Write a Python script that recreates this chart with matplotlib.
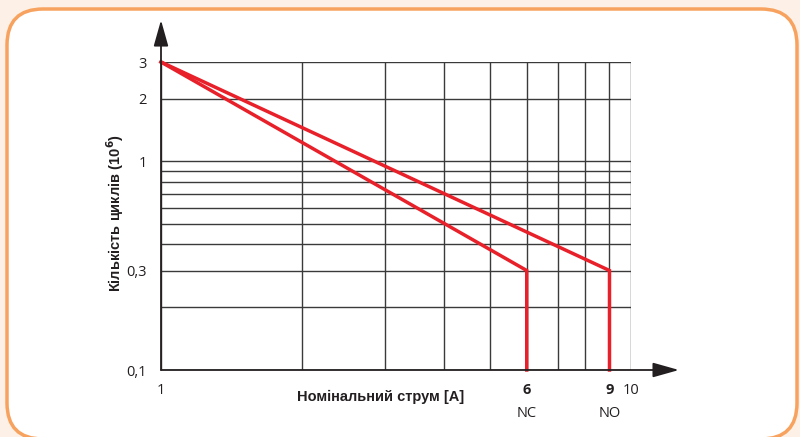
import matplotlib.pyplot as plt
from matplotlib.patches import FancyBboxPatch

# data
nc_current = [1, 6, 6]
nc_cycles = [3, 0.3, 0.1]
no_current = [1, 9, 9]
no_cycles = [3, 0.3, 0.1]

x_grid = [1, 2, 3, 4, 5, 6, 7, 8, 9, 10]
y_grid = [0.1, 0.2, 0.3, 0.4, 0.5, 0.6, 0.7, 0.8, 0.9, 1, 2, 3]
x_ticks = [1, 6, 9, 10]
x_ticklabels = ['1', '6', '9', '10']
y_ticks = [0.1, 0.3, 1, 2, 3]
y_ticklabels = ['0,1', '0,3', '1', '2', '3']

fig = plt.figure(figsize=(8, 4.37), dpi=100, facecolor='#fdf1e7')

# rounded frame
frame = FancyBboxPatch((7 / 800, -2 / 437), 790 / 800, 430 / 437,
                       boxstyle='round,pad=0,rounding_size=0.045',
                       transform=fig.transFigure, facecolor='white',
                       edgecolor='#f7a25e', linewidth=2.5,
                       mutation_aspect=800 / 437, zorder=-5)
fig.patches.append(frame)

ax = fig.add_axes([161 / 800, 67 / 437, 470 / 800, 308 / 437])
ax.set_xscale('log')
ax.set_yscale('log')
ax.set_xlim(1, 10)
ax.set_ylim(0.1, 3)
ax.set_facecolor('none')

grid_color = '#3a3a3a'
ax.vlines(x_grid, 0.1, 3, color=grid_color, linewidth=1, zorder=1)
ax.hlines(y_grid, 1, 10, color=grid_color, linewidth=1, zorder=1)
for s in ax.spines.values():
    s.set_visible(False)

red = '#e8202a'
ax.plot(nc_current, nc_cycles, color=red, linewidth=2.5, zorder=3,
        solid_joinstyle='miter', clip_on=False)
ax.plot(no_current, no_cycles, color=red, linewidth=2.5, zorder=3,
        solid_joinstyle='miter', clip_on=False)

ax.set_xticks(x_ticks)
ax.set_xticklabels(x_ticklabels)
ax.set_yticks(y_ticks)
ax.set_yticklabels(y_ticklabels)
ax.minorticks_off()
ax.tick_params(length=0, labelsize=10.5, labelcolor='#231f20')
ax.tick_params(axis='x', pad=9)
ax.tick_params(axis='y', pad=10)
for lbl in ax.get_xticklabels():
    lbl.set_fontfamily('Open Sans')
    if lbl.get_text() in ('6', '9'):
        lbl.set_fontweight('bold')
for lbl in ax.get_yticklabels():
    lbl.set_fontfamily('Open Sans')

# NC / NO captions
ax.text(6, -0.14, 'NC', transform=ax.get_xaxis_transform(), ha='center',
        va='center', fontsize=10.5, family='Open Sans', color='#231f20')
ax.text(9, -0.14, 'NO', transform=ax.get_xaxis_transform(), ha='center',
        va='center', fontsize=10.5, family='Open Sans', color='#231f20')

ax.set_xlabel('Номінальний струм [A]', fontsize=10.5, fontweight='bold',
              family='Liberation Sans', color='#231f20')
ax.xaxis.set_label_coords((381 - 161) / 470, -(397 - 370) / 308)
ax.set_ylabel('Кількість циклів (10$^{\\mathbf{6}}$)', fontsize=10.5,
              fontweight='bold', family='Liberation Sans', color='#231f20')
ax.yaxis.set_label_coords(-(161 - 115) / 470, (370 - 213) / 308)
ax.xaxis.label.set_va('center')
ax.yaxis.label.set_va('center')

# axes with arrows
ax.annotate('', xy=(1.102, 0), xytext=(0, 0), xycoords='axes fraction',
            arrowprops=dict(arrowstyle='-|>,head_length=1.6,head_width=0.45',
                            color='#231f20', lw=1.3, shrinkA=0, shrinkB=0),
            annotation_clip=False)
ax.annotate('', xy=(0, 1.136), xytext=(0, 0), xycoords='axes fraction',
            arrowprops=dict(arrowstyle='-|>,head_length=1.6,head_width=0.45',
                            color='#231f20', lw=1.3, shrinkA=0, shrinkB=0),
            annotation_clip=False)

fig.savefig('out.png', dpi=100, facecolor=fig.get_facecolor())
